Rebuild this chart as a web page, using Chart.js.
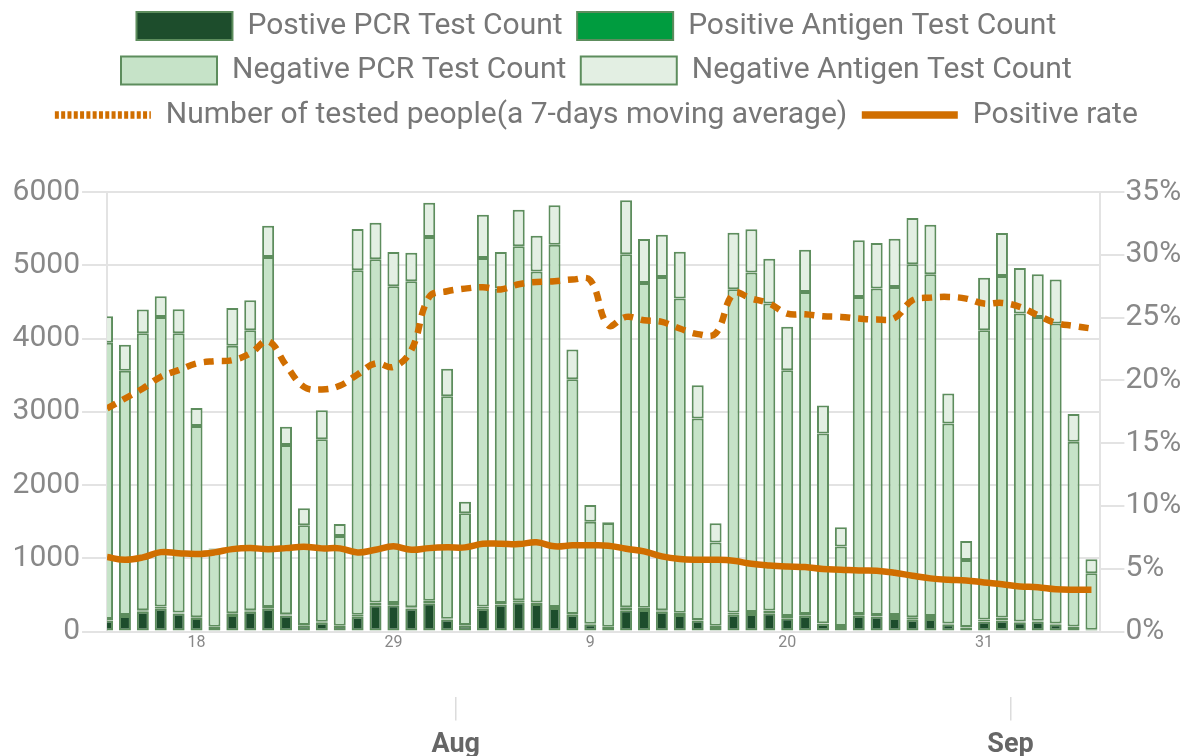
<!DOCTYPE html>
<html>
<head>
<meta charset="utf-8">
<script src="https://cdn.jsdelivr.net/npm/chart.js@4/dist/chart.umd.min.js"></script>
<style>
html,body{margin:0;padding:0;background:#fff;}
canvas{display:block;}
</style>
</head>
<body>
<canvas id="c" width="1195" height="756"></canvas>
<script>
// ---------- DATA ----------
const dates = [
  'Jul 13','Jul 14','Jul 15','Jul 16','Jul 17','Jul 18','Jul 19','Jul 20','Jul 21','Jul 22',
  'Jul 23','Jul 24','Jul 25','Jul 26','Jul 27','Jul 28','Jul 29','Jul 30','Jul 31','Aug 1',
  'Aug 2','Aug 3','Aug 4','Aug 5','Aug 6','Aug 7','Aug 8','Aug 9','Aug 10','Aug 11',
  'Aug 12','Aug 13','Aug 14','Aug 15','Aug 16','Aug 17','Aug 18','Aug 19','Aug 20','Aug 21',
  'Aug 22','Aug 23','Aug 24','Aug 25','Aug 26','Aug 27','Aug 28','Aug 29','Aug 30','Aug 31',
  'Sep 1','Sep 2','Sep 3','Sep 4','Sep 5','Sep 6'
];
const positivePCR = [150,210,270,310,245,185,60,225,270,310,220,80,120,75,200,360,360,315,385,165,80,310,370,400,375,320,230,100,60,290,295,270,225,150,60,230,240,250,180,215,105,60,215,205,185,160,170,100,55,135,150,125,135,100,60,20];
const positiveAntigen = [20,15,20,30,15,10,5,25,20,25,15,8,12,5,30,35,30,15,35,10,8,30,20,25,20,15,10,5,5,40,30,20,30,8,20,30,25,35,30,25,8,15,25,20,40,35,40,8,5,30,40,10,12,10,8,5];
const negativePCR = [3771,3334,3782,3955,3812,2609,1055,3650,3823,4778,2310,1362,2491,1224,4701,4686,4323,4451,4966,3038,1525,4760,4291,4834,4518,4946,3205,1395,1415,4820,4434,4550,4290,2751,1134,4412,4635,4192,3358,4396,2591,1084,4328,4456,4479,4818,4667,2733,917,3948,4664,4205,4148,4094,2523,770];
const negativeAntigen = [363,354,323,282,328,246,12,518,409,427,250,232,399,164,564,500,468,391,468,373,160,590,500,500,491,537,405,227,10,736,600,578,641,454,263,773,590,613,591,577,382,264,772,623,659,632,677,409,259,718,586,623,582,600,377,191];
const testedMovingAvg = [3045,3181,3318,3477,3568,3659,3690,3704,3795,3963,3636,3340,3304,3354,3509,3659,3613,3840,4568,4645,4681,4700,4670,4740,4772,4781,4804,4795,4181,4295,4250,4227,4136,4060,4068,4613,4545,4477,4340,4331,4304,4295,4272,4259,4280,4522,4558,4568,4545,4477,4486,4431,4318,4213,4172,4136];
const positiveRate = [5.93,5.71,5.9,6.32,6.24,6.17,6.3,6.56,6.64,6.56,6.64,6.75,6.62,6.62,6.3,6.51,6.78,6.51,6.64,6.7,6.7,6.99,6.99,6.96,7.1,6.78,6.86,6.86,6.83,6.59,6.38,5.98,5.77,5.71,5.71,5.63,5.39,5.26,5.18,5.13,4.97,4.92,4.86,4.84,4.68,4.44,4.23,4.12,4.07,3.91,3.77,3.59,3.53,3.37,3.32,3.32];

const dayTickDates = ['Jul 18','Jul 29','Aug 9','Aug 20','Aug 31'];
const dayTickLabels = ['18','29','9','20','31'];
const monthStartDates = ['Aug 1','Sep 1'];
const monthTickLabels = ['Aug','Sep'];
const leftTicks = [0,1000,2000,3000,4000,5000,6000];
const rightTicks = [0,5,10,15,20,25,30,35];

// ---------- helpers ----------
const toXY = arr => arr.map((v, i) => ({x: i, y: v}));
const dayTickIdx = dayTickDates.map(d => dates.indexOf(d));
const monthTickIdx = monthStartDates.map(d => dates.indexOf(d) + 0.48);
const xMax = dates.length - 0.5;

const barCommon = {
  type: 'bar', xAxisID: 'x', yAxisID: 'y', borderColor: '#5d8d5d', borderWidth: 2,
  borderSkipped: false, categoryPercentage: 1, barPercentage: 0.67, order: 1
};

const legendPlugin = {
  id: 'legendHeight',
  beforeInit(chart) {
    const lg = chart.legend;
    if (!lg) return;
    const orig = lg.fit;
    lg.fit = function() { orig.call(this); this.height = 195.5; };
  }
};

new Chart(document.getElementById('c'), {
  data: {
    datasets: [
      Object.assign({}, barCommon, {label: 'Postive PCR Test Count', data: toXY(positivePCR), backgroundColor: '#1d4d2c'}),
      Object.assign({}, barCommon, {label: 'Positive Antigen Test Count', data: toXY(positiveAntigen), backgroundColor: '#009c3f'}),
      Object.assign({}, barCommon, {label: 'Negative PCR Test Count', data: toXY(negativePCR), backgroundColor: '#c6e3c8'}),
      Object.assign({}, barCommon, {label: 'Negative Antigen Test Count', data: toXY(negativeAntigen), backgroundColor: '#e3efe3'}),
      {type: 'line', label: 'Number of tested people(a 7-days moving average)', data: toXY(testedMovingAvg),
       xAxisID: 'x', yAxisID: 'y', stack: 'ma', borderColor: '#d06e00', borderWidth: 6.5, borderDash: [10, 8],
       pointRadius: 0, pointHoverRadius: 0, tension: 0.4, fill: false, order: 0},
      {type: 'line', label: 'Positive rate', data: toXY(positiveRate),
       xAxisID: 'x', yAxisID: 'y1', borderColor: '#d06e00', borderWidth: 6.5,
       pointRadius: 0, pointHoverRadius: 0, tension: 0.4, fill: false, order: 0}
    ]
  },
  options: {
    responsive: false,
    animation: false,
    layout: {padding: {top: -3.5, left: 10.6, right: 12.9, bottom: -13}},
    plugins: {
      tooltip: {enabled: false},
      legend: {
        position: 'top',
        labels: {
          usePointStyle: true,
          pointStyleWidth: 96,
          boxHeight: 28,
          padding: 14.5,
          color: '#777',
          font: {family: 'Roboto', size: 30},
          sort: (a, b) => a.datasetIndex - b.datasetIndex,
          generateLabels(chart) {
            const items = Chart.defaults.plugins.legend.labels.generateLabels(chart);
            items.forEach(it => {
              const ds = chart.data.datasets[it.datasetIndex];
              if (ds.type === 'line') {
                it.pointStyle = 'line';
                it.lineWidth = 7.5;
                it.strokeStyle = ds.borderColor;
                it.lineDash = ds.borderDash ? [4, 2.3] : [];
                it.lineCap = 'butt';
              } else {
                it.pointStyle = 'rect';
                it.lineWidth = 2;
                it.lineDash = [];
              }
            });
            return items;
          }
        }
      }
    },
    scales: {
      x: {
        type: 'linear', position: 'bottom', min: 0, max: xMax, stacked: true, offset: false,
        grid: {display: false, drawTicks: false, tickLength: 0}, border: {display: false},
        afterBuildTicks: s => { s.ticks = dayTickIdx.map(v => ({value: v})); },
        afterFit: s => { s.height += 42.9; },
        ticks: {
          autoSkip: false, maxRotation: 0, padding: 1.5, color: '#888',
          font: {family: 'Roboto', size: 16},
          callback: v => { const k = dayTickIdx.indexOf(v); return k >= 0 ? dayTickLabels[k] : ''; }
        }
      },
      x2: {
        type: 'linear', position: 'bottom', min: 0, max: xMax,
        grid: {display: true, drawOnChartArea: false, tickLength: 24, color: '#dcdcdc', lineWidth: 1.5},
        border: {display: false},
        afterBuildTicks: s => { s.ticks = monthTickIdx.map(v => ({value: v})); },
        ticks: {
          autoSkip: false, maxRotation: 0, padding: 8, color: '#666',
          font: {family: 'Roboto', size: 27, weight: 'bold'},
          callback: v => { const k = monthTickIdx.indexOf(v); return k >= 0 ? monthTickLabels[k] : ''; }
        }
      },
      y: {
        type: 'linear', position: 'left', min: 0, max: 6000, stacked: true,
        afterBuildTicks: s => { s.ticks = leftTicks.map(v => ({value: v})); },
        grid: {color: '#e3e3e3', lineWidth: 2, tickLength: 25},
        border: {color: '#e3e3e3', width: 2},
        ticks: {padding: 2, color: '#888', font: {family: 'Roboto', size: 30}, callback: v => String(v)}
      },
      y1: {
        type: 'linear', position: 'right', min: 0, max: 35,
        afterBuildTicks: s => { s.ticks = rightTicks.map(v => ({value: v})); },
        grid: {drawOnChartArea: false, color: '#e3e3e3', lineWidth: 2, tickLength: 24},
        border: {color: '#e3e3e3', width: 2},
        ticks: {padding: 1, color: '#888', font: {family: 'Roboto', size: 30}, callback: v => v + '%'}
      }
    }
  },
  plugins: [legendPlugin]
});
</script>
</body>
</html>
